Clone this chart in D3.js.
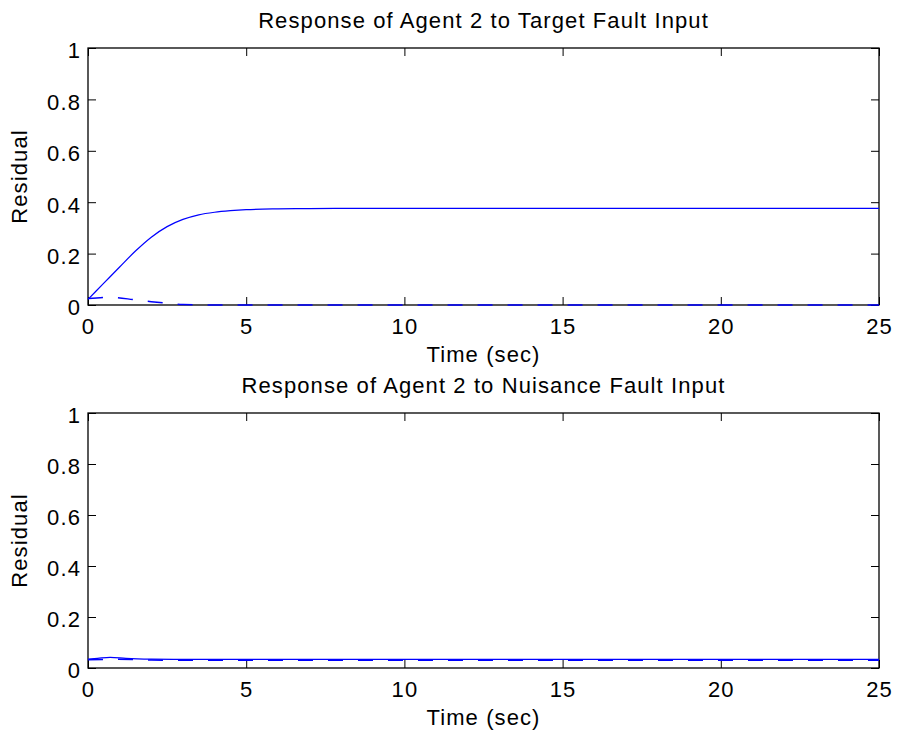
<!DOCTYPE html>
<html>
<head>
<meta charset="utf-8">
<script src="https://cdn.jsdelivr.net/npm/d3@7"></script>
<style>
  body { margin: 0; background: #fff; }
  svg { font-family: "Liberation Sans", Arial, sans-serif; letter-spacing: 1.1px; }
</style>
</head>
<body>
<div id="chart"></div>
<script>
// tick labels
let xTicks = [0, 5, 10, 15, 20, 25]
let yTicks = [0, 0.2, 0.4, 0.6, 0.8, 1]
let yTickLabels = ["0", "0.2", "0.4", "0.6", "0.8", "1"]

// top panel: target fault
let topTitle = "Response of Agent 2 to Target Fault Input"
let topSolidT = [0, 0.5, 1, 1.5, 2, 2.5, 3, 3.5, 4, 4.5, 5, 6, 7, 8, 10, 25]
let topSolidV = [0.022, 0.085, 0.148, 0.21, 0.264, 0.305, 0.333, 0.351, 0.361, 0.367, 0.371, 0.374, 0.375, 0.376, 0.376, 0.376]
let topDashT = [0, 0.7, 1.5, 2, 2.5, 3, 4, 25]
let topDashV = [0.025, 0.03, 0.02, 0.013, 0.007, 0.002, 0, 0]

// bottom panel: nuisance fault
let botTitle = "Response of Agent 2 to Nuisance Fault Input"
let botSolidT = [0, 0.3, 0.7, 1.2, 2, 3, 25]
let botSolidV = [0.035, 0.038, 0.042, 0.038, 0.035, 0.034, 0.034]
let botDashT = [0, 0.9, 2, 3, 25]
let botDashV = [0.032, 0.034, 0.031, 0.030, 0.030]

let width = 897, height = 733
let left = 88, right = 879

let svg = d3.select("#chart").append("svg")
    .attr("width", width)
    .attr("height", height)

let x = d3.scaleLinear().domain([0, 25]).range([left, right])

function panel(top, bottom, title, solidT, solidV, dashT, dashV){
    let y = d3.scaleLinear().domain([0, 1]).range([bottom, top])
    let g = svg.append("g")

    // axes, ticks point inward (box style)
    g.append("g")
        .attr("transform", "translate(0," + bottom + ")")
        .call(d3.axisBottom(x).tickValues(xTicks).tickSize(-8).tickPadding(13).tickFormat(d3.format("d")))
    g.append("g")
        .attr("transform", "translate(0," + top + ")")
        .call(d3.axisTop(x).tickValues(xTicks).tickSize(-8).tickFormat(""))
    let yl = g.append("g")
        .attr("transform", "translate(" + left + ",0)")
        .call(d3.axisLeft(y).tickValues(yTicks).tickSize(-8).tickPadding(7)
            .tickFormat(function(d, i){ return yTickLabels[i] }))
    g.append("g")
        .attr("transform", "translate(" + right + ",0)")
        .call(d3.axisRight(y).tickValues(yTicks).tickSize(-8).tickFormat(""))

    g.selectAll(".domain").remove()
    g.selectAll(".tick line").attr("stroke", "#000")
    g.selectAll(".tick text").attr("fill", "#000").style("font-size", "22px")
    yl.selectAll(".tick text").attr("dy", "0.45em")

    g.append("rect")
        .attr("x", left).attr("y", top)
        .attr("width", right - left).attr("height", bottom - top)
        .attr("fill", "none").attr("stroke", "#000").attr("stroke-width", 1.3)

    let line = d3.line()
        .x(function(d){ return x(d[0]) })
        .y(function(d){ return y(d[1]) })
        .curve(d3.curveMonotoneX)

    g.append("path")
        .datum(d3.zip(solidT, solidV))
        .attr("d", line)
        .attr("fill", "none")
        .attr("stroke", "#0000ff")
        .attr("stroke-width", 1.2)

    g.append("path")
        .datum(d3.zip(dashT, dashV))
        .attr("d", line)
        .attr("fill", "none")
        .attr("stroke", "#0000ff")
        .attr("stroke-width", 1.5)
        .attr("stroke-dasharray", "15,15")

    g.append("text")
        .attr("x", (left + right) / 2).attr("y", top - 20)
        .attr("text-anchor", "middle")
        .style("font-size", "22px")
        .text(title)

    g.append("text")
        .attr("x", (left + right) / 2).attr("y", bottom + 57)
        .attr("text-anchor", "middle")
        .style("font-size", "22px")
        .text("Time (sec)")

    g.append("text")
        .attr("transform", "translate(27," + (top + bottom) / 2 + ") rotate(-90)")
        .attr("text-anchor", "middle")
        .style("font-size", "22px")
        .text("Residual")
}

panel(48, 305, topTitle, topSolidT, topSolidV, topDashT, topDashV)
panel(413, 668, botTitle, botSolidT, botSolidV, botDashT, botDashV)
</script>
</body>
</html>
